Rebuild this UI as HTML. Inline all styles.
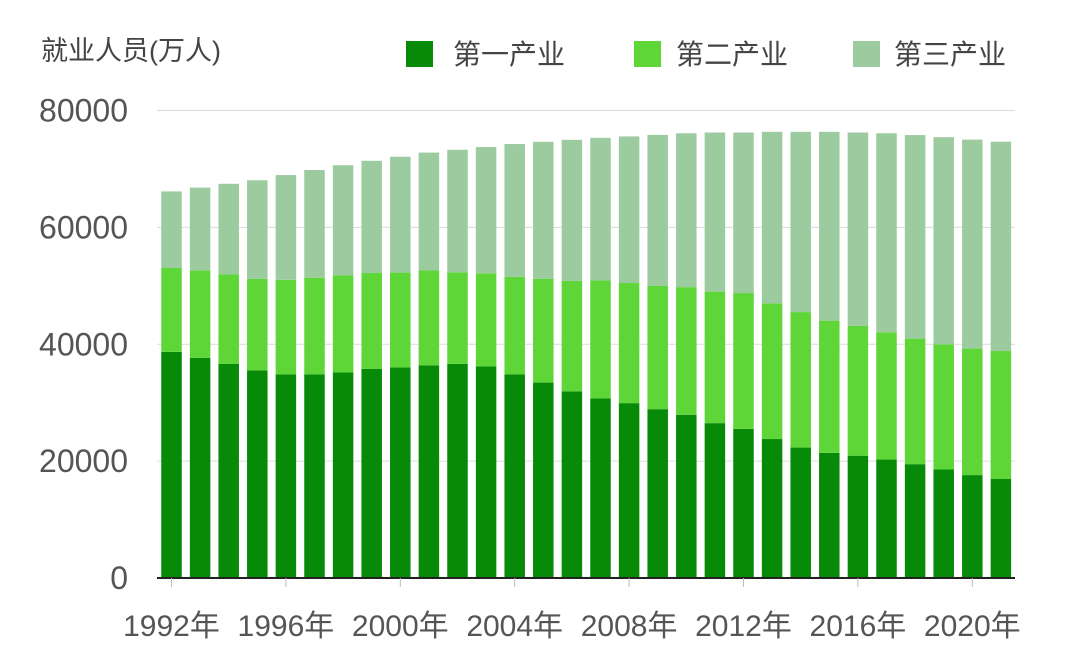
<!DOCTYPE html>
<html><head><meta charset="utf-8">
<style>
html,body{margin:0;padding:0;background:#fff;}
svg{display:block;font-family:"Liberation Sans","Noto Sans CJK SC",sans-serif;}
</style></head>
<body>
<svg id="chart" width="1080" height="645" viewBox="0 0 1080 645" xmlns="http://www.w3.org/2000/svg">
  <text x="41" y="60" font-size="27" fill="#444">就业人员(万人)</text>
  <g>
    <g>
      <rect x="406" y="41" width="27" height="26" fill="#078a07"/>
      <text x="453" y="64" font-size="28" fill="#444">第一产业</text>
    </g>
    <g>
      <rect x="634" y="41" width="27" height="26" fill="#5fd638"/>
      <text x="676" y="64" font-size="28" fill="#444">第二产业</text>
    </g>
    <g>
      <rect x="853" y="41" width="27" height="26" fill="#9dcba0"/>
      <text x="894" y="64" font-size="28" fill="#444">第三产业</text>
    </g>
  </g>
  <g id="grid"></g>
  <g id="bars"></g>
  <g id="axes"></g>
</svg>
<script>
const years = [1992,1993,1994,1995,1996,1997,1998,1999,2000,2001,2002,2003,2004,2005,2006,2007,2008,2009,2010,2011,2012,2013,2014,2015,2016,2017,2018,2019,2020,2021];
const primary = [38699,37680,36628,35530,34820,34840,35177,35768,36043,36399,36640,36204,34830,33442,31941,30731,29923,28890,27931,26500,25530,23780,22320,21420,20930,20270,19480,18570,17610,16940];
const secondary = [14355,14965,15312,15655,16203,16547,16600,16421,16219,16234,15682,15927,16709,17766,18894,20186,20553,21080,21842,22500,23230,23230,23180,22620,22210,21780,21480,21420,21650,21900];
const tertiary = [13098,14163,15515,16880,17927,18432,18860,19205,19823,20165,20958,21605,22725,23439,24143,24404,25087,25857,26332,27230,27470,29340,30850,32310,33090,34060,34840,35450,35760,35820];
const yTicks = [0,20000,40000,60000,80000];
const xTickYears = [1992,1996,2000,2004,2008,2012,2016,2020];

const NS = "http://www.w3.org/2000/svg";
const y0 = 578, yTop = 110.5, yMax = 80000;
const xFirst = 171.5, pitch = 28.6, barW = 20.5;
const plotL = 157, plotR = 1015;
function yScale(v){ return y0 - (v / yMax) * (y0 - yTop); }
function xScale(i){ return xFirst + i * pitch; }
function mk(tag, attrs, parent){
  const el = document.createElementNS(NS, tag);
  for (const k in attrs) el.setAttribute(k, attrs[k]);
  parent.appendChild(el);
  return el;
}
const grid = document.getElementById('grid');
const bars = document.getElementById('bars');
const axes = document.getElementById('axes');

yTicks.forEach(v => {
  const y = yScale(v);
  if (v > 0) {
    const ln = mk('line', {x1: plotL, x2: plotR, y1: y, y2: y, stroke: '#dcdcdc', 'stroke-width': 1}, grid);
    
    
  }
  const t = mk('text', {x: 128, y: y + 11, 'font-size': 32, 'text-anchor': 'end', fill: '#555'}, axes);
  t.textContent = v;
  
  
});

const colors = ['#078a07', '#5fd638', '#9dcba0'];
const seriesNames = ['primary', 'secondary', 'tertiary'];
years.forEach((yr, i) => {
  const vals = [primary[i], secondary[i], tertiary[i]];
  let base = 0;
  vals.forEach((v, s) => {
    const yA = yScale(base), yB = yScale(base + v);
    const r = mk('rect', {x: xScale(i) - barW / 2, y: yB, width: barW, height: yA - yB, fill: colors[s]}, bars);
    
    
    base += v;
  });
});

const axis = mk('line', {x1: plotL, x2: plotR, y1: y0, y2: y0, stroke: '#222', 'stroke-width': 2}, axes);



xTickYears.forEach(yr => {
  const i = years.indexOf(yr);
  const x = xScale(i);
  const tk = mk('line', {x1: x, x2: x, y1: y0, y2: y0 + 9, stroke: '#bbb', 'stroke-width': 1}, axes);
  
  
  const t = mk('text', {x: x, y: 636, 'font-size': 30, 'text-anchor': 'middle', fill: '#555'}, axes);
  t.textContent = yr + '年';
  
  
});
</script>
</body></html>
